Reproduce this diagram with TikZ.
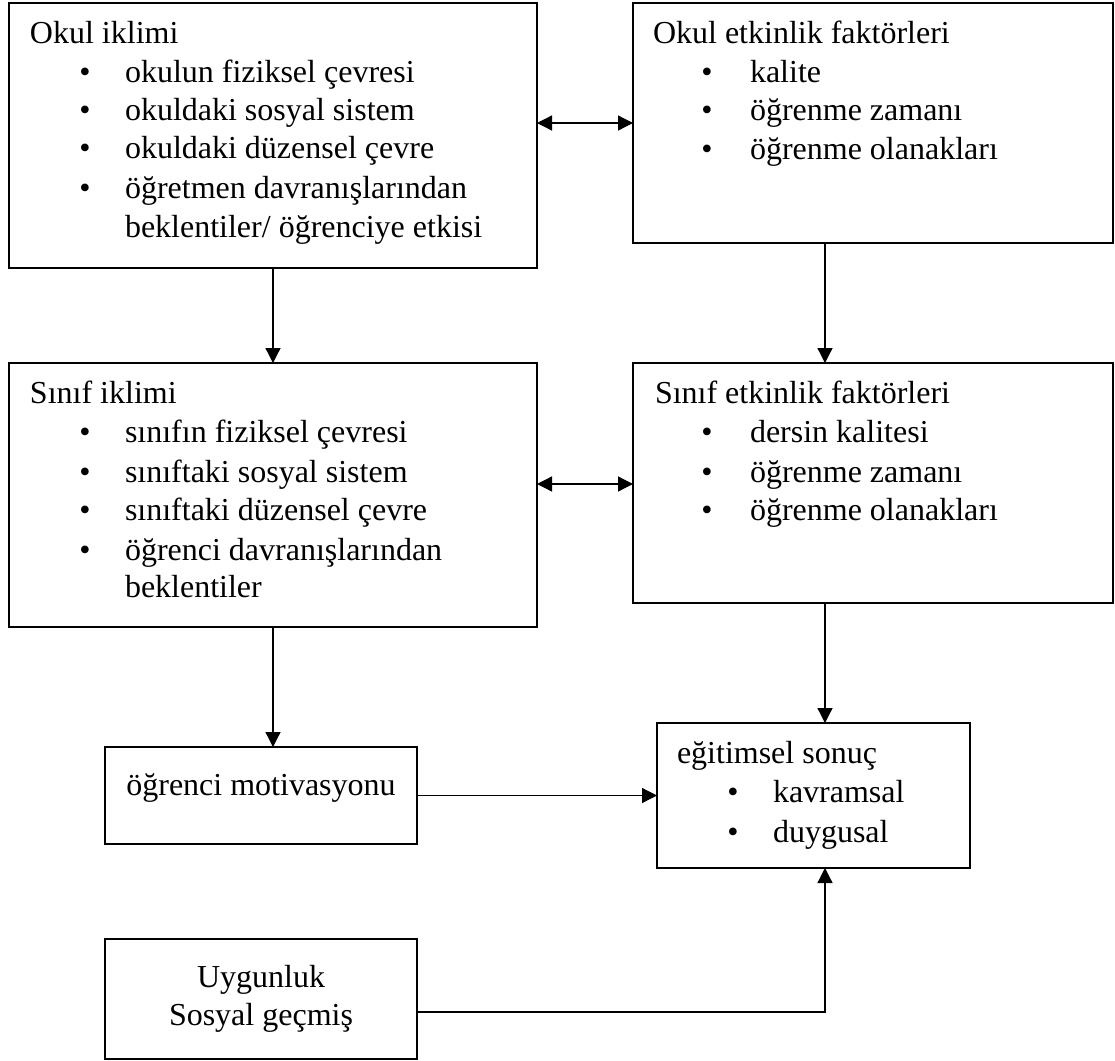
\documentclass[tikz,border=0pt]{standalone}
\usepackage{fontspec}
\setmainfont{Liberation Serif}
\usetikzlibrary{arrows.meta}
\tikzset{
  boxnode/.style={draw, line width=1pt, inner sep=0pt, outer sep=0pt, anchor=north west},
  txt/.style={inner sep=0pt, outer sep=0pt, font=\fontsize{16pt}{19.4pt}\selectfont},
  tipx/.tip={Triangle[length=7.5pt,width=7.5pt]},
  conn/.style={line width=0.65pt, -tipx},
  dconn/.style={line width=0.65pt, tipx-tipx},
}
% name, bullet x, text x, baseline y, text
\newcommand\bitem[5]{%
  \node[txt, anchor=base] (#1d) at (#2,#4) {•};
  \node[txt, anchor=base west] (#1) at (#3,#4) {#5};
}
\begin{document}
\begin{tikzpicture}[x=0.5pt,y=-0.5pt]
\useasboundingbox (0,0) rectangle (1115,1061);

% boxes
\node[boxnode, minimum width=264.2pt, minimum height=132.35pt] (b1) at (8.6,3.3) {};
\node[boxnode, minimum width=240pt, minimum height=120pt] (b2) at (633,3) {};
\node[boxnode, minimum width=264.2pt, minimum height=132pt] (b3) at (8.6,363) {};
\node[boxnode, minimum width=240pt, minimum height=120pt] (b4) at (633,363) {};
\node[boxnode, minimum width=156.2pt, minimum height=48.5pt] (b5) at (104.6,747) {};
\node[boxnode, minimum width=156.5pt, minimum height=72.5pt] (b6) at (657,723) {};
\node[boxnode, minimum width=156.2pt, minimum height=60pt] (b7) at (104.6,939) {};

% texts box 1
\node[txt, anchor=base west] (t1) at (30,43) {Okul iklimi};
\bitem{t1a}{85}{125}{82}{okulun fiziksel çevresi}
\bitem{t1b}{85}{125}{120}{okuldaki sosyal sistem}
\bitem{t1c}{85}{125}{158}{okuldaki düzensel çevre}
\bitem{t1e}{85}{125}{198}{öğretmen davranışlarından}
\node[txt, anchor=base west] (t1f) at (125,237) {beklentiler/ öğrenciye etkisi};

% texts box 2
\node[txt, anchor=base west] (t2) at (653,43) {Okul etkinlik faktörleri};
\bitem{t2a}{707}{750}{82}{kalite}
\bitem{t2b}{707}{750}{120}{öğrenme zamanı}
\bitem{t2c}{707}{750}{159}{öğrenme olanakları}

% texts box 3
\node[txt, anchor=base west] (t3) at (30,403) {Sınıf iklimi};
\bitem{t3a}{85}{125}{442}{sınıfın fiziksel çevresi}
\bitem{t3b}{85}{125}{482}{sınıftaki sosyal sistem}
\bitem{t3c}{85}{125}{520}{sınıftaki düzensel çevre}
\bitem{t3e}{85}{125}{560}{öğrenci davranışlarından}
\node[txt, anchor=base west] (t3f) at (125,597) {beklentiler};

% texts box 4
\node[txt, anchor=base west] (t4) at (655,403) {Sınıf etkinlik faktörleri};
\bitem{t4a}{707}{750}{442}{dersin kalitesi}
\bitem{t4b}{707}{750}{482}{öğrenme zamanı}
\bitem{t4c}{707}{750}{520}{öğrenme olanakları}

% box 5
\node[txt, anchor=base] (t5) at (261,795) {öğrenci motivasyonu};

% box 6
\node[txt, anchor=base west] (t6) at (677,763) {eğitimsel sonuç};
\bitem{t6a}{733}{773}{802}{kavramsal}
\bitem{t6b}{733}{773}{842}{duygusal}

% box 7
\node[txt, anchor=base] (t7a) at (261,987) {Uygunluk};
\node[txt, anchor=base] (t7b) at (261,1025) {Sosyal geçmiş};

% helper coordinates
\coordinate (ya) at (0,123);
\coordinate (yb) at (0,484);
\coordinate (yc) at (0,1012);
\coordinate (xl) at (273,0);
\coordinate (xr) at (825,0);

% connectors
\draw[dconn] (b1.east |- ya) -- (b2.west |- ya);
\draw[dconn] (b3.east |- yb) -- (b4.west |- yb);
\draw[conn] (b1.south -| xl) -- (b3.north -| xl);
\draw[conn] (b3.south -| xl) -- (b5.north -| xl);
\draw[conn] (b2.south -| xr) -- (b4.north -| xr);
\draw[conn] (b4.south -| xr) -- (b6.north -| xr);
\draw[conn] (b5.east) -- (b6.west);
\draw[conn] (b7.east |- yc) -| (b6.south -| xr);
\end{tikzpicture}
\end{document}
